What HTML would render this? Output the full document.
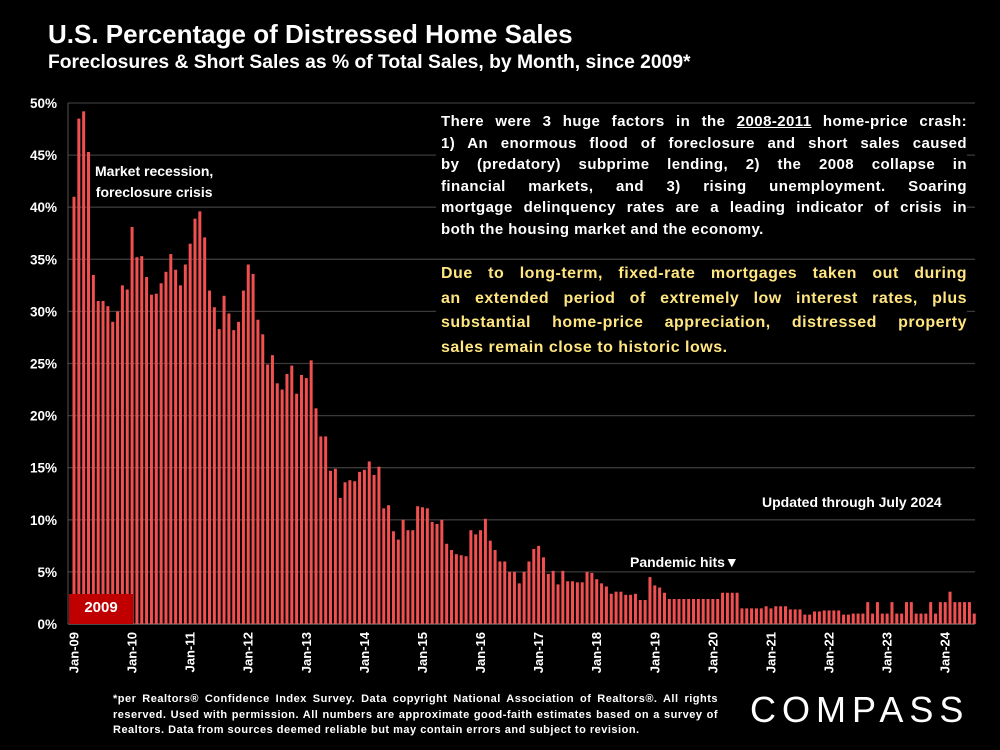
<!DOCTYPE html>
<html><head><meta charset="utf-8"><style>
html,body{margin:0;padding:0;background:#000;}
body{width:1000px;height:750px;position:relative;overflow:hidden;font-family:"Liberation Sans",sans-serif;color:#fff;}
.t{position:absolute;font-weight:bold;}
.j div{text-align:justify;text-align-last:justify;white-space:nowrap;}
.j div.l{text-align-last:left;}
</style></head><body>
<div class="t" style="left:48px;top:19px;font-size:26px;">U.S. Percentage of Distressed Home Sales</div>
<div class="t" style="left:48px;top:52px;font-size:19.3px;">Foreclosures &amp; Short Sales as % of Total Sales, by Month, since 2009*</div>
<svg id="chart" width="1000" height="750" style="position:absolute;left:0;top:0;" font-family="Liberation Sans, sans-serif"></svg>
<div class="t j" style="left:436px;top:111px;width:526px;padding-left:5px;font-size:15px;letter-spacing:0.43px;line-height:21.5px;background:#000;height:134px;">
<div>There were 3 huge factors in the <u>2008-2011</u> home-price crash:</div>
<div>1) An enormous flood of foreclosure and short sales caused</div>
<div>by (predatory) subprime lending, 2) the 2008 collapse in</div>
<div>financial markets, and 3) rising unemployment. Soaring</div>
<div>mortgage delinquency rates are a leading indicator of crisis in</div>
<div class="l">both the housing market and the economy.</div>
</div>
<div class="t j" style="left:436px;top:262px;width:526px;padding-left:5px;font-size:16px;letter-spacing:0.5px;line-height:24.5px;color:#ffe680;background:#000;height:100px;">
<div>Due to long-term, fixed-rate mortgages taken out during</div>
<div>an extended period of extremely low interest rates, plus</div>
<div>substantial home-price appreciation, distressed property</div>
<div class="l">sales remain close to historic lows.</div>
</div>
<div class="t" style="left:92px;top:161px;font-size:14px;line-height:21px;text-align:center;background:#000;padding:0 3px;">Market recession,<br>foreclosure crisis</div>
<div class="t" style="left:756px;top:494px;font-size:14px;background:#000;padding:0 6px;">Updated through July 2024</div>
<div class="t" style="left:620px;top:554px;font-size:14px;background:#000;padding:0 10px;">Pandemic hits▼</div>
<div class="t" style="left:69px;top:594px;width:64px;height:30px;background:#c00000;font-size:15px;line-height:28px;text-align:center;">2009</div>
<div class="t j" style="left:113px;top:692px;width:605px;font-size:11px;letter-spacing:0.5px;line-height:15.5px;">
<div>*per Realtors® Confidence Index Survey. Data copyright National Association of Realtors®. All rights</div>
<div>reserved. Used with permission. All numbers are approximate good-faith estimates based on a survey of</div>
<div class="l">Realtors. Data from sources deemed reliable but may contain errors and subject to revision.</div>
</div>
<div style="position:absolute;left:750px;top:689px;font-size:36px;letter-spacing:6px;font-family:'Liberation Sans',sans-serif;">COMPASS</div>
<script>
const years=["Jan-09","Jan-10","Jan-11","Jan-12","Jan-13","Jan-14","Jan-15","Jan-16","Jan-17","Jan-18","Jan-19","Jan-20","Jan-21","Jan-22","Jan-23","Jan-24"];
const yTicks=[0,5,10,15,20,25,30,35,40,45,50];
const values=[
41,48.5,49.2,45.3,33.5,31,31,30.5,29,30,32.5,32.1,
38.1,35.2,35.3,33.3,31.6,31.7,32.7,33.8,35.5,34,32.5,34.5,
36.5,38.9,39.6,37.1,32,30.4,28.3,31.5,29.8,28.2,29,32,
34.5,33.6,29.2,27.8,24.9,25.8,23.1,22.5,24,24.8,22.1,23.9,
23.6,25.3,20.7,18,18,14.7,14.9,12.1,13.6,13.8,13.7,14.6,
14.8,15.6,14.3,15.1,11.1,11.4,8.9,8.1,10,9,9,11.3,
11.2,11.1,9.8,9.6,10,7.7,7.1,6.7,6.6,6.5,9,8.6,
9,10.1,8,7.1,6,6,5,5,3.9,5,6,7.2,
7.5,6.4,4.8,5.1,3.8,5.1,4.1,4.1,4.0,4.0,5.0,4.9,
4.3,3.9,3.6,2.9,3.1,3.1,2.8,2.8,2.9,2.3,2.3,4.5,
3.7,3.5,3.0,2.4,2.4,2.4,2.4,2.4,2.4,2.4,2.4,2.4,2.4,2.4,
3.0,3.0,3.0,3.0,1.5,1.5,1.5,1.5,1.5,
1.7,1.5,1.7,1.7,1.7,1.4,1.4,1.4,0.9,0.9,1.2,1.2,1.3,1.3,1.3,1.3,0.9,0.9,1.0,1.0,1.0,
2.1,1.0,2.1,1.0,1.0,2.1,1.0,1.0,2.1,2.1,1.0,1.0,1.0,2.1,1.0,2.1,2.1,3.1,2.1,2.1,2.1,2.1,1.0];
const svg=document.getElementById('chart');
const NS='http://www.w3.org/2000/svg';
const x0=68,x1=975,y0=624,yTop=103;
const step=4.84;
function xs(i){return 74+i*step;}
function ys(v){return y0-(v/50)*(y0-yTop);}
function mk(tag,attrs){const e=document.createElementNS(NS,tag);for(const k in attrs)e.setAttribute(k,attrs[k]);svg.appendChild(e);return e;}
yTicks.forEach(t=>{
  const g=mk('line',{x1:x0,x2:x1,y1:ys(t),y2:ys(t),stroke:t===0?'#777':'#3a3a3a','stroke-width':1.3});
  
  
  const l=mk('text',{x:57,y:ys(t)+5,'text-anchor':'end',fill:'#fff','font-size':13.5,'font-weight':'bold'});
  l.textContent=t+'%';
  
  
});
mk('line',{x1:x0,x2:x0,y1:yTop,y2:y0,stroke:'#555','stroke-width':1});
values.forEach((v,i)=>{
  const b=mk('rect',{x:xs(i)-1.5,y:ys(v),width:3,height:y0-ys(v),fill:'#f25050'});
  
  
});
years.forEach((yname,k)=>{
  const xx=xs(k*12)+4.5;
  const t=mk('text',{x:0,y:0,transform:`translate(${xx},632) rotate(-90)`,'text-anchor':'end',fill:'#fff','font-size':13,'font-weight':'bold'});
  t.textContent=yname;
  
  
});
</script>
</body></html>
